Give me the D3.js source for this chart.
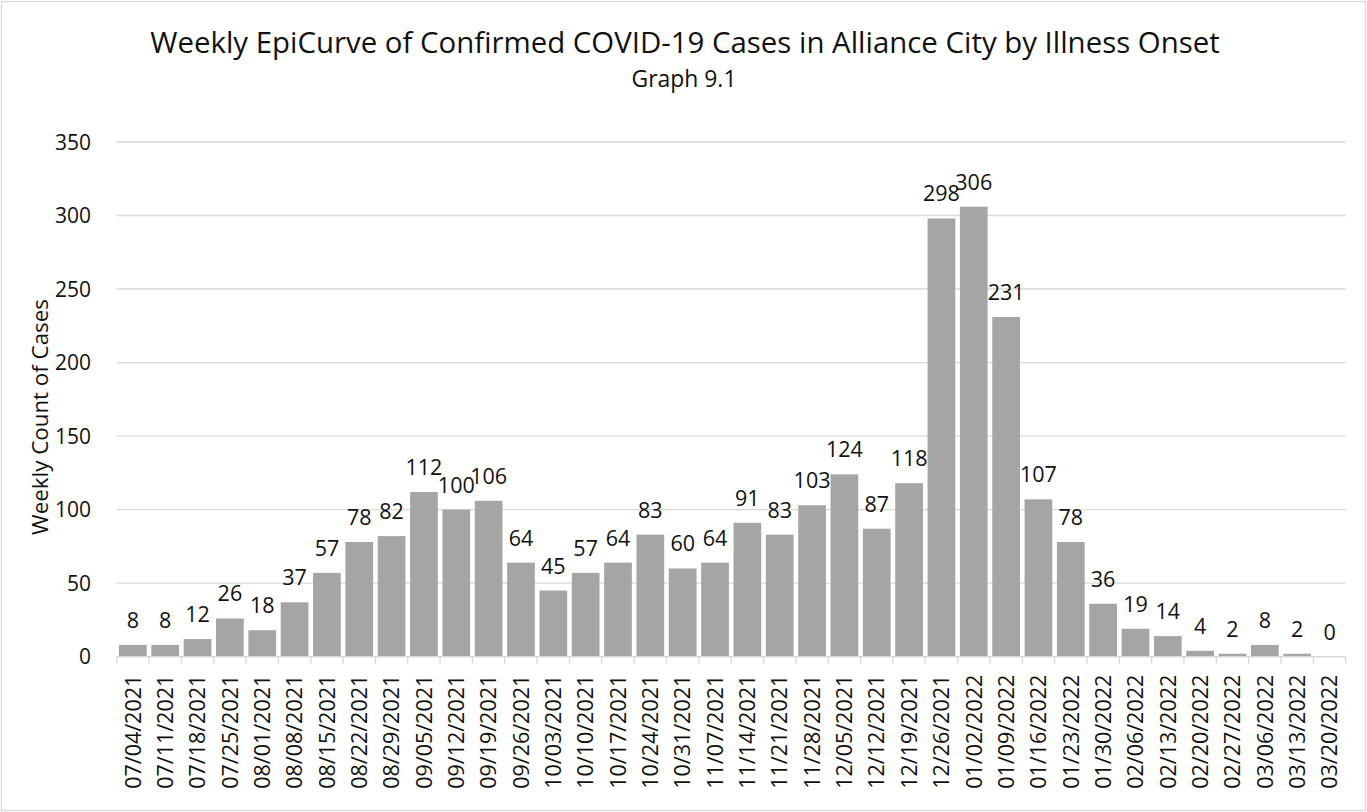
<!DOCTYPE html>
<html>
<head>
<meta charset="utf-8">
<script src="https://cdn.jsdelivr.net/npm/d3@7"></script>
<style>
  html, body { margin: 0; padding: 0; background: #fff; }
  text { font-family: "Open Sans", sans-serif; fill: #111; }
</style>
</head>
<body>
<div id="chart"></div>
<script>
const weeks = [
  "07/04/2021", "07/11/2021", "07/18/2021", "07/25/2021", "08/01/2021", "08/08/2021",
  "08/15/2021", "08/22/2021", "08/29/2021", "09/05/2021", "09/12/2021", "09/19/2021",
  "09/26/2021", "10/03/2021", "10/10/2021", "10/17/2021", "10/24/2021", "10/31/2021",
  "11/07/2021", "11/14/2021", "11/21/2021", "11/28/2021", "12/05/2021", "12/12/2021",
  "12/19/2021", "12/26/2021", "01/02/2022", "01/09/2022", "01/16/2022", "01/23/2022",
  "01/30/2022", "02/06/2022", "02/13/2022", "02/20/2022", "02/27/2022", "03/06/2022",
  "03/13/2022", "03/20/2022"
];
const cases = [
  8, 8, 12, 26, 18, 37,
  57, 78, 82, 112, 100, 106,
  64, 45, 57, 64, 83, 60,
  64, 91, 83, 103, 124, 87,
  118, 298, 306, 231, 107, 78,
  36, 19, 14, 4, 2, 8,
  2, 0
];
const yTicks = [0, 50, 100, 150, 200, 250, 300, 350];

const titleText = "Weekly EpiCurve of Confirmed COVID-19 Cases in Alliance City by Illness Onset";
const subtitleText = "Graph 9.1";
const yLabelText = "Weekly Count of Cases";

const width = 1367;
const height = 812;
const plotLeft = 116.7;
const plotRight = 1345.7;
const plotTop = 142;
const plotBottom = 656.7;

// fit a text node's font size so it spans a target width
function fitWidth(sel, target) {
  const w = sel.node().getComputedTextLength();
  const fs = parseFloat(sel.attr("font-size"));
  sel.attr("font-size", fs * target / w);
}

const svg = d3.select("#chart").append("svg")
  .attr("width", width)
  .attr("height", height)
  .attr("viewBox", [0, 0, width, height]);

svg.append("rect")
  .attr("x", 1.5).attr("y", 1.5)
  .attr("width", width - 3).attr("height", height - 3)
  .attr("fill", "#fff")
  .attr("stroke", "#d9d9d9")
  .attr("stroke-width", 1.3);

const x = d3.scaleBand()
  .domain(weeks)
  .range([plotLeft, plotRight])
  .paddingInner(0.143)
  .paddingOuter(0.0715);

const y = d3.scaleLinear()
  .domain([0, 350])
  .range([plotBottom, plotTop]);

// gridlines
svg.append("g")
  .selectAll("line")
  .data(yTicks.filter(d => d > 0))
  .join("line")
  .attr("x1", plotLeft).attr("x2", plotRight)
  .attr("y1", d => y(d)).attr("y2", d => y(d))
  .attr("stroke", "#d9d9d9")
  .attr("stroke-width", 1.4);

// y tick labels
svg.append("g")
  .selectAll("text")
  .data(yTicks)
  .join("text")
  .attr("x", 91)
  .attr("y", d => y(d))
  .attr("dy", "0.36em")
  .attr("text-anchor", "end")
  .attr("font-size", 21)
  .text(d => d);

// bars
svg.append("g")
  .attr("fill", "#a5a5a5")
  .selectAll("rect")
  .data(cases)
  .join("rect")
  .attr("x", (d, i) => x(weeks[i]))
  .attr("y", d => y(d))
  .attr("width", x.bandwidth())
  .attr("height", d => y(0) - y(d));

// x axis line and category boundary ticks
const gap = (x.step() - x.bandwidth()) / 2;
const bounds = weeks.map(w => x(w) - gap).concat([x(weeks[weeks.length - 1]) + x.bandwidth() + gap]);

svg.append("line")
  .attr("x1", plotLeft).attr("x2", plotRight)
  .attr("y1", y(0)).attr("y2", y(0))
  .attr("stroke", "#d9d9d9")
  .attr("stroke-width", 1.4);

svg.append("g")
  .selectAll("line")
  .data(bounds)
  .join("line")
  .attr("x1", d => d).attr("x2", d => d)
  .attr("y1", y(0)).attr("y2", y(0) + 7)
  .attr("stroke", "#d9d9d9")
  .attr("stroke-width", 1.4);

// x tick labels, rotated
svg.append("g")
  .selectAll("text")
  .data(weeks)
  .join("text")
  .attr("transform", d => `translate(${x(d) + x.bandwidth() / 2},${y(0) + 18}) rotate(-90)`)
  .attr("dy", "0.36em")
  .attr("text-anchor", "end")
  .attr("font-size", 21.5)
  .text(d => d);

// data labels
svg.append("g")
  .selectAll("text")
  .data(cases)
  .join("text")
  .attr("x", (d, i) => x(weeks[i]) + x.bandwidth() / 2)
  .attr("y", d => y(d) - 17)
  .attr("text-anchor", "middle")
  .attr("font-size", 21.5)
  .text(d => d);

// titles
const title = svg.append("text")
  .attr("x", 685).attr("y", 53)
  .attr("text-anchor", "middle")
  .attr("font-size", 27)
  .text(titleText);
fitWidth(title, 1070);

const subtitle = svg.append("text")
  .attr("x", 684).attr("y", 87)
  .attr("text-anchor", "middle")
  .attr("font-size", 22)
  .text(subtitleText);
fitWidth(subtitle, 105);

const yLabel = svg.append("text")
  .attr("transform", `translate(40,417) rotate(-90)`)
  .attr("dy", "0.36em")
  .attr("text-anchor", "middle")
  .attr("font-size", 21)
  .text(yLabelText);
fitWidth(yLabel, 236);
</script>
</body>
</html>
